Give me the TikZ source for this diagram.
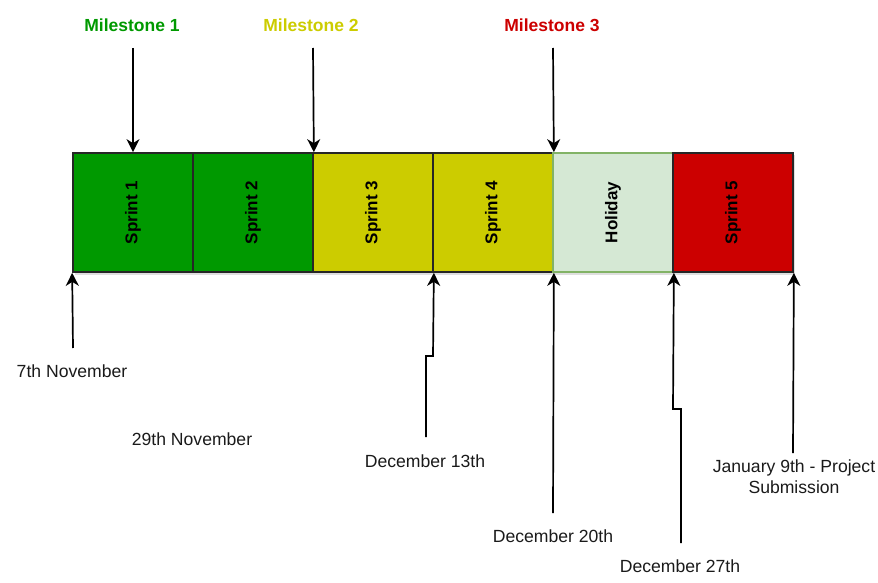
\documentclass[tikz,border=0pt]{standalone}
\usepackage{fontspec}
\setmainfont{Liberation Sans}
\usetikzlibrary{arrows.meta,shadows}
\definecolor{sgreen}{HTML}{009900}
\definecolor{syellow}{HTML}{CCCC00}
\definecolor{sred}{HTML}{CC0000}
\definecolor{hfill}{HTML}{D5E8D4}
\definecolor{hline}{HTML}{82B366}
\definecolor{txt}{HTML}{1A1A1A}
\begin{document}
\begin{tikzpicture}[x=1pt,y=1pt,
  sprintbox/.style={draw=black!85,line width=1.7pt,minimum width=120pt,minimum height=119pt,inner sep=0pt,
    font=\fontsize{17}{20}\selectfont\bfseries,
    drop shadow={shadow xshift=2pt,shadow yshift=-2.5pt,opacity=0.25,fill=gray}},
  mstone/.style={inner sep=0pt,anchor=base,font=\fontsize{17.5}{21}\selectfont\bfseries},
  datelbl/.style={inner sep=0pt,anchor=base,text=txt,font=\fontsize{17.6}{21}\selectfont,align=center},
  arr/.style={line width=1.7pt,-{Stealth[length=13pt,width=13pt,inset=4pt]}}]
\useasboundingbox (0,0) rectangle (878,-583);
% boxes
\node[sprintbox,fill=sgreen] (s1) at (133,-212.5) {\rotatebox{90}{Sprint 1}};
\node[sprintbox,fill=sgreen] (s2) at (253,-212.5) {\rotatebox{90}{Sprint 2}};
\node[sprintbox,fill=syellow] (s3) at (373,-212.5) {\rotatebox{90}{Sprint 3}};
\node[sprintbox,fill=syellow] (s4) at (493,-212.5) {\rotatebox{90}{Sprint 4}};
\node[sprintbox,fill=hfill,draw=hline] (hol) at (613,-212.5) {\rotatebox{90}{Holiday}};
\node[sprintbox,fill=sred] (s5) at (733,-212.5) {\rotatebox{90}{Sprint 5}};
% milestones
\node[mstone,text=sgreen] (m1) at (132,-32) {Milestone 1};
\node[mstone,text=syellow] (m2) at (311,-32) {Milestone 2};
\node[mstone,text=sred] (m3) at (552,-32) {Milestone 3};
\coordinate (m1t) at (133,-48);
\coordinate (m2t) at (313,-48);
\coordinate (m3t) at (553,-48);
\draw[arr] (m1t) -- (s1.north);
\draw[arr] (m2t) -- (s2.north east);
\draw[arr] (m3t) -- (s4.north east);
% dates
\node[datelbl] (d1) at (72,-377) {7th November};
\node[datelbl] (d2) at (192,-445) {29th November};
\node[datelbl] (d3) at (425,-467) {December 13th};
\node[datelbl] (d4) at (553,-542) {December 20th};
\node[datelbl] (d5) at (680,-572) {December 27th};
\node[datelbl] (d6) at (794,-493) {January 9th - Project\\Submission};
\coordinate (d1t) at (73,-348);
\coordinate (d3t) at (426,-437);
\coordinate (d4t) at (553,-513);
\coordinate (d5t) at (681,-543);
\coordinate (d6t) at (793,-453);
\draw[arr] (d1t) -- (s1.south west);
\draw[arr] (d3t) -- (426,-356) -- (433,-356) -- (s3.south east);
\draw[arr] (d4t) -- (s4.south east);
\draw[arr] (d5t) -- (681,-409) -- (673,-409) -- (hol.south east);
\draw[arr] (d6t) -- (s5.south east);
\end{tikzpicture}
\end{document}
